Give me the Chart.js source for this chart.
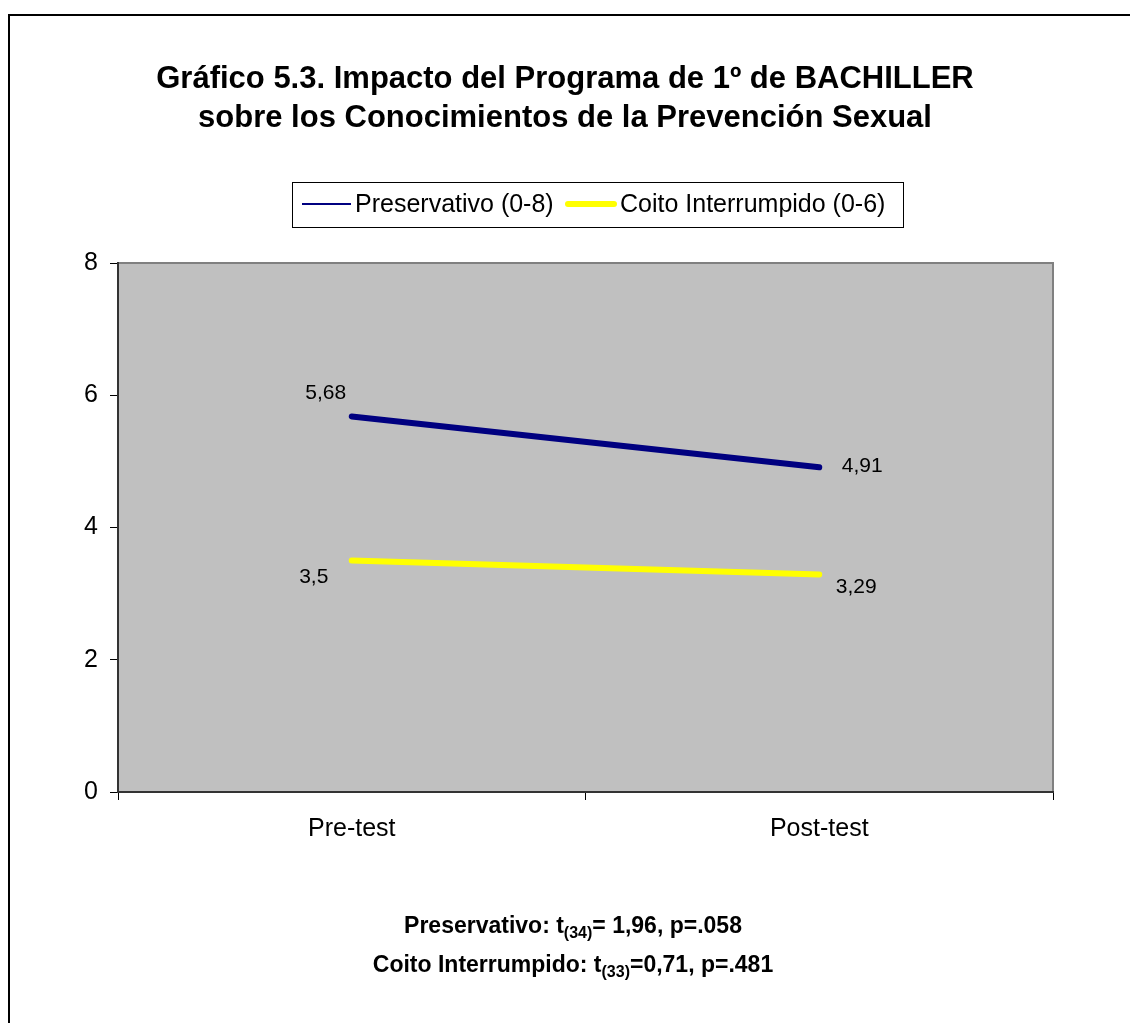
<!DOCTYPE html>
<html>
<head>
<meta charset="utf-8">
<script src="https://cdn.jsdelivr.net/npm/chart.js@4"></script>
<style>
  html, body { margin: 0; padding: 0; background: #fff; }
  #wrap { width: 1130px; height: 1023px; position: relative; }
</style>
</head>
<body>
<div id="wrap"><canvas id="lineChart" width="1130" height="1023"></canvas></div>
<script>
// ====== Data ======
const categories = ["Pre-test", "Post-test"];
const preservativo = [5.68, 4.91];
const coito = [3.5, 3.29];
const seriesNames = ["Preservativo (0-8)", "Coito Interrumpido (0-6)"];
const yTicks = [0, 2, 4, 6, 8];
const titleLines = [
  "Gráfico 5.3. Impacto del Programa de 1º de BACHILLER",
  "sobre los Conocimientos de la Prevención Sexual"
];
// each footer line: [text, subscript] pieces
const footerLines = [
  [["Preservativo: t", false], ["(34)", true], ["= 1,96, p=.058", false]],
  [["Coito Interrumpido: t", false], ["(33)", true], ["=0,71, p=.481", false]]
];

const FONT = "'Liberation Sans', Arial, sans-serif";

// ====== Plot background + frame ======
const plotBg = {
  id: "plotBg",
  beforeDraw(chart) {
    const { ctx, chartArea: a } = chart;
    ctx.save();
    // outer frame (top + left visible)
    ctx.fillStyle = "#000";
    ctx.fillRect(8, 14, 1122, 2);
    ctx.fillRect(8, 14, 2, 1009);
    ctx.fillStyle = "#C0C0C0";
    ctx.fillRect(a.left, a.top, a.right - a.left, a.bottom - a.top);
    ctx.strokeStyle = "#808080";
    ctx.lineWidth = 2;
    ctx.beginPath();
    ctx.moveTo(a.left, a.top);
    ctx.lineTo(a.right, a.top);
    ctx.lineTo(a.right, a.bottom);
    ctx.stroke();
    ctx.restore();
  }
};

// ====== Title, legend, value labels, footer ======
const extras = {
  id: "extras",
  afterDraw(chart) {
    const { ctx } = chart;
    ctx.save();

    // title
    ctx.fillStyle = "#000";
    ctx.font = "bold 31px " + FONT;
    ctx.textAlign = "center";
    ctx.textBaseline = "middle";
    ctx.fillText(titleLines[0], 565, 79);
    ctx.fillText(titleLines[1], 565, 118);

    // legend box
    ctx.strokeStyle = "#000";
    ctx.lineWidth = 1;
    ctx.strokeRect(292.5, 182.5, 611, 45);
    ctx.textAlign = "left";
    ctx.font = "25px " + FONT;
    ctx.lineCap = "butt";
    ctx.strokeStyle = "#000080";
    ctx.lineWidth = 2;
    ctx.beginPath(); ctx.moveTo(302, 204); ctx.lineTo(351, 204); ctx.stroke();
    ctx.fillText(seriesNames[0], 355, 205);
    ctx.strokeStyle = "#FFFF00";
    ctx.lineWidth = 6;
    ctx.lineCap = "round";
    ctx.beginPath(); ctx.moveTo(568, 204); ctx.lineTo(614, 204); ctx.stroke();
    ctx.fillText(seriesNames[1], 620, 205);

    // value labels
    ctx.font = "21px " + FONT;
    const m0 = chart.getDatasetMeta(0).data;
    const m1 = chart.getDatasetMeta(1).data;
    ctx.textAlign = "center";
    ctx.fillText(String(preservativo[0]).replace(".", ","), m0[0].x - 26, m0[0].y - 23);
    ctx.fillText(String(preservativo[1]).replace(".", ","), m0[1].x + 43, m0[1].y - 1);
    ctx.fillText(String(coito[0]).replace(".", ","), m1[0].x - 38, m1[0].y + 17);
    ctx.fillText(String(coito[1]).replace(".", ","), m1[1].x + 37, m1[1].y + 13);

    // footer with subscripts
    const drawFooter = (pieces, cx, y) => {
      const big = "bold 23px " + FONT, small = "bold 16px " + FONT;
      let w = 0;
      pieces.forEach(([t, sub]) => { ctx.font = sub ? small : big; w += ctx.measureText(t).width; });
      let x = cx - w / 2;
      ctx.textAlign = "left";
      pieces.forEach(([t, sub]) => {
        ctx.font = sub ? small : big;
        ctx.fillText(t, x, sub ? y + 7 : y);
        x += ctx.measureText(t).width;
      });
    };
    drawFooter(footerLines[0], 573, 927);
    drawFooter(footerLines[1], 573, 966);

    ctx.restore();
  }
};

// ====== Chart ======
const ctx = document.getElementById("lineChart").getContext("2d");
new Chart(ctx, {
  type: "line",
  data: {
    labels: categories,
    datasets: [
      {
        label: seriesNames[0],
        data: preservativo,
        borderColor: "#000080",
        borderWidth: 6,
        pointRadius: 0,
        borderCapStyle: "round",
        tension: 0
      },
      {
        label: seriesNames[1],
        data: coito,
        borderColor: "#FFFF00",
        borderWidth: 6,
        pointRadius: 0,
        borderCapStyle: "round",
        tension: 0
      }
    ]
  },
  options: {
    responsive: false,
    animation: false,
    layout: { padding: { left: 0, right: 77, top: 263, bottom: 0 } },
    plugins: {
      legend: { display: false },
      title: { display: false },
      tooltip: { enabled: false }
    },
    scales: {
      x: {
        offset: true,
        grid: { offset: true, drawOnChartArea: false, drawTicks: true, tickLength: 8, color: "#000" },
        border: { color: "#333", width: 2 },
        ticks: { color: "#000", font: { family: FONT, size: 25 }, padding: 14 },
        afterFit(scale) { scale.height = 231; }
      },
      y: {
        min: 0,
        max: 8,
        afterBuildTicks(scale) { scale.ticks = yTicks.map(v => ({ value: v })); },
        grid: { drawOnChartArea: false, drawTicks: true, tickLength: 8, color: "#000" },
        border: { color: "#333", width: 2 },
        ticks: { color: "#000", font: { family: FONT, size: 25 }, padding: 12 },
        afterFit(scale) { scale.width = 118; }
      }
    }
  },
  plugins: [plotBg, extras]
});
</script>
</body>
</html>
